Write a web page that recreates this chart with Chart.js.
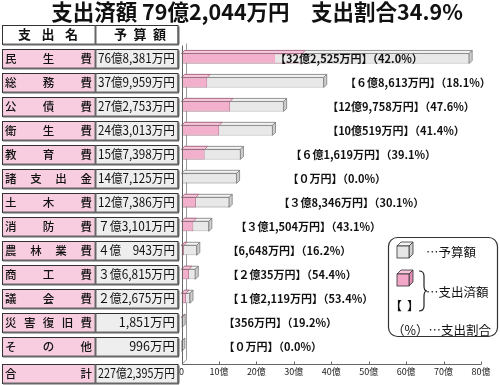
<!DOCTYPE html>
<html lang="ja"><head><meta charset="utf-8">
<script src="https://cdn.jsdelivr.net/npm/chart.js@4.4.0/dist/chart.umd.min.js"></script>
<style>html,body{margin:0;padding:0;background:#fff;}#wrap{width:500px;height:385px;position:relative;}</style>
</head><body><div id="wrap"><canvas id="c" width="500" height="385"></canvas></div>
<script>
// ---- data ----
const categories = ['民生費','総務費','公債費','衛生費','教育費','諸支出金','土木費','消防費','農林業費','商工費','議会費','災害復旧費','その他'];
const budget = [76.8381, 37.9959, 27.2753, 24.3013, 15.7398, 14.7125, 12.7386, 7.3101, 4.0943, 3.6815, 2.2675, 0.1851, 0.0996];
const spent = [32.2525, 6.8613, 12.9758, 10.0519, 6.1619, 0, 3.8346, 3.1504, 0.6648, 2.0035, 1.2119, 0.0356, 0];
const budgetText = ['76億8,381万円','37億9,959万円','27億2,753万円','24億3,013万円','15億7,398万円','14億7,125万円','12億7,386万円','７億3,101万円','４億　943万円','３億6,815万円','２億2,675万円','1,851万円','996万円'];
const spentText = ['32億2,525万円','６億8,613万円','12億9,758万円','10億519万円','６億1,619万円','０万円','３億8,346万円','３億1,504万円','6,648万円','２億35万円','１億2,119万円','356万円','０万円'];
const rateText = ['42.0%','18.1%','47.6%','41.4%','39.1%','0.0%','30.1%','43.1%','16.2%','54.4%','53.4%','19.2%','0.0%'];
const labelAt = [25.0, 43.7, 38.9, 38.9, 29.1, 28.3, 25.9, 14.4, 12.3, 12.3, 12.3, 11.2, 11.2];
const xTicks = [0, 10, 20, 30, 40, 50, 60, 70, 80];
const headerNames = ['支出名', '予算額'];
const totalName = '合計';
const totalText = '227億2,395万円';
const titleText = '支出済額 79億2,044万円　支出割合34.9%';
const legendTexts = ['…予算額', '…支出済額', '（%）…支出割合'];

// ---- styles ----
const F = '"Noto Sans CJK JP", "Noto Sans", sans-serif';
const PINK = '#f2b0cd', PINK_EDGE = '#a8607e', PINK_TOP = '#f7c9dd';
const GRAY = '#e8e8e8', GRAY_EDGE = '#7a7a7a', GRAY_TOP = '#f3f3f3', GRAY_SIDE = '#cfcfcf';
const TBL_PINK = '#f8cde0', TBL_GRAY = '#eeeeee';
const D = 3;

function poly(ctx, pts, fill, stroke){
  ctx.beginPath(); ctx.moveTo(pts[0][0], pts[0][1]);
  for (let k = 1; k < pts.length; k++) ctx.lineTo(pts[k][0], pts[k][1]);
  ctx.closePath();
  if (fill){ ctx.fillStyle = fill; ctx.fill(); }
  if (stroke){ ctx.strokeStyle = stroke; ctx.lineWidth = 0.8; ctx.stroke(); }
}
function line(ctx, x1, y1, x2, y2){ ctx.beginPath(); ctx.moveTo(x1, y1); ctx.lineTo(x2, y2); ctx.stroke(); }
// spread full-width characters evenly between x1 and x2 (em = font size)
function justify(ctx, text, x1, x2, yc, em){
  const ch = [...text];
  const n = ch.length;
  const step = n > 1 ? (x2 - x1 - em) / (n - 1) : 0;
  ctx.textAlign = 'center';
  ch.forEach((c, k) => { ctx.fillText(c, x1 + em / 2 + k * step, yc); });
}
function box(ctx, x1, x2, yc, h, fill){
  const t = Math.round(yc - h / 2) + 0.5;
  ctx.fillStyle = fill; ctx.fillRect(x1, t, x2 - x1, h);
  return t;
}
function tableRow(ctx, yc, fillL, fillR){
  const h = 19;
  const t = box(ctx, 2, 95, yc, h, fillL);
  box(ctx, 95, 178, yc, h, fillR);
  ctx.strokeStyle = '#333'; ctx.lineWidth = 1;
  ctx.strokeRect(2.5, t, 175.5, h);
  ctx.strokeStyle = '#666'; ctx.lineWidth = 2;
  line(ctx, 95.5, t, 95.5, t + h);
  line(ctx, 3, t + h, 179, t + h);
  line(ctx, 178.5, t + 1, 178.5, t + h);
  ctx.fillStyle = '#111';
  ctx.textBaseline = 'middle';
}
function cube(ctx, x, y, s, d, front, top, side){
  poly(ctx, [[x, y + d], [x + s, y + d], [x + s + d, y], [x + d, y]], top, '#333');
  poly(ctx, [[x + s, y + d], [x + s + d, y], [x + s + d, y + s], [x + s, y + s + d]], side, '#333');
  ctx.fillStyle = front; ctx.fillRect(x, y + d, s, s);
  ctx.strokeStyle = '#333'; ctx.lineWidth = 0.8; ctx.strokeRect(x, y + d, s, s);
}

const deco = {
  id: 'deco',
  beforeDatasetsDraw(chart){
    const {ctx, chartArea: a, scales: {x}} = chart;
    const x0 = x.getPixelForValue(0);
    const axisY = a.bottom + 5.5;
    ctx.save();
    ctx.strokeStyle = '#999'; ctx.lineWidth = 1;
    line(ctx, Math.round(x0) + 4.5, a.top - 3, Math.round(x0) + 4.5, axisY - 4);
    line(ctx, Math.round(x0) + 4.5, axisY - 4, Math.round(x0) + 0.5, axisY);
    const mb = chart.getDatasetMeta(1).data, ms = chart.getDatasetMeta(0).data;
    mb.forEach((bar, i) => {
      const p = bar.getProps(['x', 'y', 'base', 'height'], true);
      const top = p.y - p.height / 2, bot = p.y + p.height / 2;
      poly(ctx, [[p.base, top], [p.x, top], [p.x + D, top - D], [p.base + D, top - D]], GRAY_TOP, GRAY_EDGE);
      poly(ctx, [[p.x, top], [p.x + D, top - D], [p.x + D, bot - D], [p.x, bot]], GRAY_SIDE, GRAY_EDGE);
      if (spent[i] > 0){
        const sx = ms[i].getProps(['x'], true).x;
        poly(ctx, [[p.base, top], [sx, top], [sx + D, top - D], [p.base + D, top - D]], PINK_TOP, PINK_EDGE);
      }
    });
    ctx.restore();
  },
  afterDatasetsDraw(chart){
    const {ctx, chartArea: a, scales: {x, y}} = chart;
    const x0 = x.getPixelForValue(0);
    const axisY = Math.round(a.bottom + 5.5) + 0.5;
    ctx.save();
    // front axes
    ctx.strokeStyle = '#666'; ctx.lineWidth = 1;
    line(ctx, Math.round(x0) + 0.5, a.top - 1, Math.round(x0) + 0.5, axisY);
    line(ctx, Math.round(x0) + 0.5, axisY, x.getPixelForValue(xTicks[xTicks.length - 1]), axisY);
    xTicks.forEach(v => { const px = Math.round(x.getPixelForValue(v)) + 0.5; line(ctx, px, axisY, px, axisY - 3); });

    // bar labels
    const mb = chart.getDatasetMeta(1).data;
    ctx.font = 'bold 11px ' + F;
    ctx.textBaseline = 'middle';
    categories.forEach((c, i) => {
      const yc = y.getPixelForValue(i);
      const lx = x.getPixelForValue(labelAt[i]);
      const txt = '【' + spentText[i] + '】（' + rateText[i] + '）';
      const w = ctx.measureText(txt).width;
      const p = mb[i].getProps(['x', 'height'], true);
      if (lx < p.x){
        ctx.fillStyle = GRAY;
        ctx.fillRect(lx, yc - p.height / 2 + 1, Math.min(w, p.x - lx - 1), p.height - 2);
      }
      ctx.fillStyle = '#111'; ctx.textAlign = 'left';
      ctx.fillText(txt, lx, yc + 0.5);
    });

    // table
    const step = y.getPixelForValue(1) - y.getPixelForValue(0);
    const hy = y.getPixelForValue(0) - step;
    tableRow(ctx, hy, '#fff', '#fff');
    ctx.font = 'bold 13px ' + F;
    justify(ctx, headerNames[0], 18, 78, hy, 13);
    justify(ctx, headerNames[1], 114, 166, hy, 13);
    categories.forEach((c, i) => {
      const yc = y.getPixelForValue(i);
      tableRow(ctx, yc, TBL_PINK, TBL_GRAY);
      ctx.font = '500 11.5px ' + F;
      justify(ctx, c, 5, 92, yc, 11.5);
      ctx.font = '12.5px ' + F;
      ctx.textAlign = 'right';
      ctx.fillText(budgetText[i], 175, yc, 77);
    });
    const ty = axisY + 9;
    tableRow(ctx, ty, TBL_PINK, TBL_GRAY);
    ctx.font = '500 11.5px ' + F;
    justify(ctx, totalName, 5, 92, ty, 11.5);
    ctx.font = '12.5px ' + F; ctx.textAlign = 'right';
    ctx.fillText(totalText, 175, ty, 77);

    // title
    ctx.font = 'bold 21.5px ' + F;
    ctx.textAlign = 'center'; ctx.fillStyle = '#111';
    ctx.fillText(titleText, 257, 12, 415);

    // legend
    ctx.strokeStyle = '#333'; ctx.lineWidth = 1.2;
    ctx.beginPath(); ctx.roundRect(388.5, 237.5, 109, 99, 9); ctx.stroke();
    cube(ctx, 397, 242, 12, 4, '#e6e6e6', '#f4f4f4', '#d0d0d0');
    cube(ctx, 397, 270, 12, 4, '#f2a6c8', '#f7c5dc', '#e08cb4');
    ctx.font = '12.5px ' + F; ctx.fillStyle = '#111'; ctx.textAlign = 'left'; ctx.textBaseline = 'middle';
    ctx.fillText(legendTexts[0], 426, 252);
    ctx.fillText(legendTexts[1], 426, 292);
    ctx.fillText(legendTexts[2], 392, 330);
    ctx.font = 'bold 12px ' + F;
    ctx.fillText('【', 390, 306);
    ctx.fillText('】', 407, 306);
    // brace
    ctx.strokeStyle = '#222'; ctx.lineWidth = 1.2;
    ctx.beginPath();
    ctx.moveTo(419, 271); ctx.quadraticCurveTo(424, 271, 424, 276);
    ctx.lineTo(424, 286); ctx.quadraticCurveTo(424, 291, 427, 291);
    ctx.quadraticCurveTo(424, 291, 424, 296);
    ctx.lineTo(424, 306); ctx.quadraticCurveTo(424, 311, 419, 311);
    ctx.stroke();
    ctx.restore();
  }
};

new Chart(document.getElementById('c'), {
  type: 'bar',
  data: {
    labels: categories,
    datasets: [
      {label: '支出済額', data: spent, backgroundColor: PINK, borderColor: PINK_EDGE, borderWidth: 0.8, order: 0, grouped: false, categoryPercentage: 1, barPercentage: 0.42},
      {label: '予算額', data: budget, backgroundColor: GRAY, borderColor: GRAY_EDGE, borderWidth: 0.8, order: 1, grouped: false, categoryPercentage: 1, barPercentage: 0.42}
    ]
  },
  options: {
    indexAxis: 'y',
    responsive: false,
    animation: false,
    devicePixelRatio: 1,
    layout: {padding: {left: 181.5, right: 19, top: 46.5, bottom: 0}},
    plugins: {legend: {display: false}, tooltip: {enabled: false}, title: {display: false}},
    scales: {
      x: {
        type: 'linear', min: 0, max: 80,
        afterBuildTicks: s => { s.ticks = xTicks.map(v => ({value: v})); },
        ticks: {padding: 8, color: '#222', font: {size: 9, family: F}, maxRotation: 0, callback: v => v === 0 ? '0' : v + '億'},
        grid: {display: false, drawTicks: false},
        border: {display: false}
      },
      y: {display: false}
    }
  },
  plugins: [deco]
});
</script>
</body></html>
